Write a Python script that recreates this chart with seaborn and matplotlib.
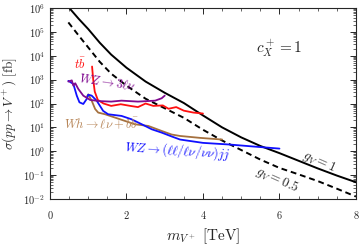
import numpy as np
import pandas as pd
import matplotlib
matplotlib.use("Agg")
import matplotlib.pyplot as plt
import seaborn as sns

# theory curves, log10(sigma / fb)
m_theory = [0.48, 0.75, 1.0, 1.3, 1.6, 2.0, 2.5, 3.0, 3.5, 4.0, 4.5, 5.0, 5.5, 6.0, 6.5, 7.0, 7.5, 8.0]
logsig_g1 = [6.05, 5.55, 5.12, 4.55, 4.05, 3.5, 2.92, 2.45, 2.02, 1.5, 1.0, 0.58, 0.22, -0.08, -0.4, -0.72, -1.02, -1.3]
logsig_g05 = [5.4, 4.85, 4.35, 3.75, 3.25, 2.75, 2.2, 1.8, 1.4, 0.9, 0.45, 0.05, -0.35, -0.7, -0.97, -1.25, -1.57, -1.9]

# experimental limits, log10(sigma / fb)
m_tb = [1.1, 1.13, 1.17, 1.25, 1.4, 1.6, 1.85, 2.1, 2.3, 2.5, 2.7, 2.95, 3.1, 3.3, 3.5, 3.75, 4.0]
log_tb = [3.55, 3.0, 2.5, 2.15, 2.0, 1.9, 1.97, 1.9, 1.85, 2.0, 1.9, 1.92, 1.78, 1.85, 1.7, 1.62, 1.58]

m_wz3l = [0.48, 0.57, 0.61, 0.66, 0.74, 0.87, 1.05, 1.3, 1.6, 1.87, 2.3, 2.75, 2.92, 3.0]
log_wz3l = [2.92, 2.97, 2.75, 2.85, 2.61, 2.33, 2.15, 2.1, 2.08, 2.12, 2.08, 2.12, 2.22, 2.33]

m_wzjj = [0.48, 0.61, 0.7, 0.77, 0.87, 0.96, 1.0, 1.09, 1.22, 1.39, 1.52, 1.87, 2.13, 2.4, 2.66, 2.92, 3.18, 3.4, 4.0, 4.7, 5.3, 6.0]
log_wzjj = [2.95, 2.82, 2.33, 2.05, 1.98, 2.19, 2.37, 2.33, 2.12, 1.69, 1.55, 1.48, 1.34, 1.13, 0.92, 0.78, 0.62, 0.49, 0.35, 0.28, 0.2, 0.11]

m_wh = [0.97, 1.0, 1.09, 1.18, 1.26, 1.44, 1.7, 1.96, 2.22, 2.57, 2.92, 3.18, 3.4, 3.92, 4.5]
log_wh = [2.3, 2.38, 2.12, 1.77, 1.62, 1.55, 1.41, 1.27, 1.13, 1.06, 0.85, 0.7, 0.64, 0.56, 0.49]

sns.set_style("ticks")
plt.rcParams["font.family"] = "serif"
plt.rcParams["font.serif"] = ["cmr10", "DejaVu Serif"]
plt.rcParams["mathtext.fontset"] = "cm"
plt.rcParams["axes.formatter.use_mathtext"] = True

fig = plt.figure(figsize=(3.61, 2.45), dpi=100)
ax = fig.add_axes([0.1385, 0.188, 0.8475, 0.779])


def draw(m, logs, **kw):
    df = pd.DataFrame({"m": m, "sigma": 10 ** np.array(logs)})
    sns.lineplot(data=df, x="m", y="sigma", sort=False, ax=ax, **kw)


draw(m_theory, logsig_g1, color="black", lw=1.4)
draw(m_theory, logsig_g05, color="black", lw=1.4, linestyle=(0, (3, 2)))
draw(m_wh, log_wh, color="#a5713f", lw=1.3)
draw(m_wzjj, log_wzjj, color="#1010ff", lw=1.3)
draw(m_tb, log_tb, color="#ff1010", lw=1.3)
draw(m_wz3l, log_wz3l, color="#800a90", lw=1.3)

ax.set_yscale("log")
ax.set_xlim(0, 8)
ax.set_ylim(1e-2, 1e6)
ax.set_xticks([0, 2, 4, 6, 8])
ax.set_xticks(np.arange(0, 8.01, 0.5), minor=True)
ax.set_yticks([10.0 ** k for k in range(-2, 7)])
ax.yaxis.set_minor_locator(matplotlib.ticker.LogLocator(base=10, subs=np.arange(2, 10), numticks=20))
ax.yaxis.set_minor_formatter(matplotlib.ticker.NullFormatter())
ax.tick_params(which="both", direction="in", top=True, right=True, labelsize=7.5)
ax.tick_params(which="major", length=4, width=0.7)
ax.tick_params(which="minor", length=2, width=0.5)
ax.tick_params(axis="x", pad=7)
for s in ax.spines.values():
    s.set_linewidth(0.8)

ax.set_xlabel(r"$m_{V^+}$ [TeV]", fontsize=11, labelpad=4)
ax.set_ylabel(r"$\sigma(pp\to V^+)$ [fb]", fontsize=9.5, labelpad=3)

ax.text(0.8, 10 ** 3.68, r"$t\bar{b}$", color="#ff1010", fontsize=9, ha="center", va="center")
ax.text(1.5, 10 ** 2.88, r"$WZ\to 3\ell\nu$", color="#800a90", fontsize=9, ha="center", va="center", rotation=-8)
ax.text(1.35, 10 ** 1.15, r"$Wh\to \ell\nu + b\bar{b}$", color="#b8875a", fontsize=9, ha="center", va="center")
ax.text(3.32, 10 ** 0.0, r"$WZ\to(\ell\ell/\ell\nu/\nu\nu)jj$", color="#1010ff", fontsize=9, ha="center", va="center", rotation=-4)
ax.text(6.0, 10 ** 4.3, r"$c_X^+ = 1$", fontsize=11, ha="center", va="center")
ax.text(7.05, 10 ** -0.45, r"$g_V = 1$", fontsize=9.5, ha="center", va="center", rotation=-24)
ax.text(5.95, 10 ** -1.17, r"$g_V = 0.5$", fontsize=9.5, ha="center", va="center", rotation=-24)

fig.savefig("out.png", dpi=100)
